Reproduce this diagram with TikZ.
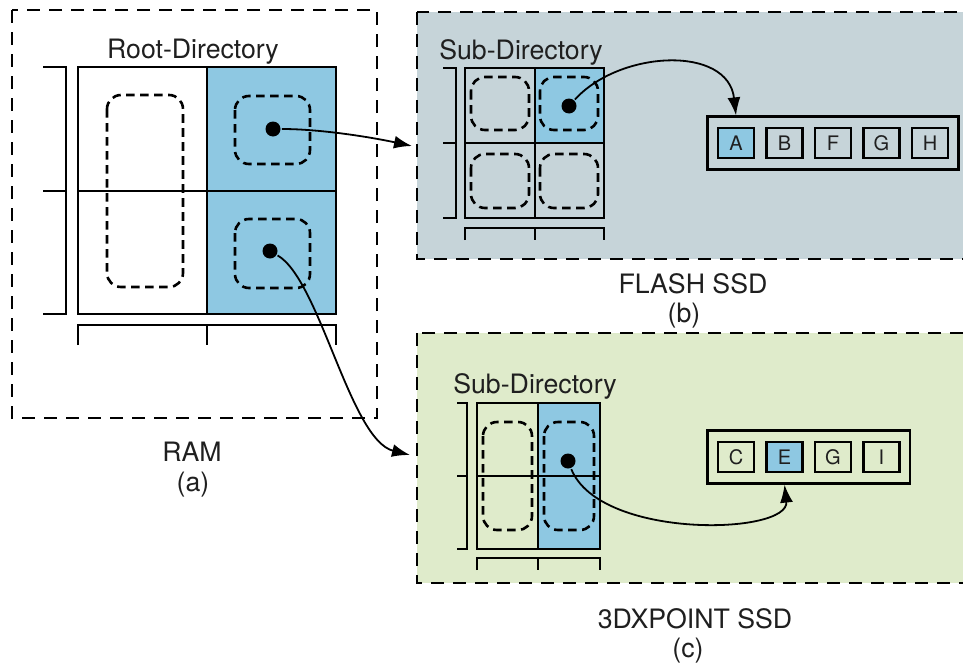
\documentclass[tikz,border=0pt]{standalone}
\usepackage{fontspec}
\setmainfont{TeX Gyre Heros}
\usepackage{tikz}
\usepackage{xcolor}
\usetikzlibrary{calc}
\usetikzlibrary{positioning, fit, arrows.meta}

\definecolor{cellblue}{RGB}{142,200,226}
\definecolor{flashgray}{RGB}{198,212,217}
\definecolor{xpointgreen}{RGB}{223,235,203}

\begin{document}
\begin{tikzpicture}[x=0.5pt, y=-0.5pt, line width=1.3pt, every node/.style={text=black!88}]
                % Styles for the regions, slots, pointers and key lists
                \tikzstyle{region}=[dash pattern=on 6.5pt off 4.5pt, line width=1.3pt];
                \tikzstyle{slot}=[dash pattern=on 4.3pt off 2.7pt, line width=1.3pt, rounded corners=7pt];
                \tikzstyle{ptr}=[circle, fill=black, inner sep=0pt, minimum size=7.5pt];
                \tikzstyle{key}=[draw, line width=1.3pt, minimum width=18pt, minimum height=15pt, inner sep=0pt, font=\fontsize{10}{12}\selectfont];
                \tikzstyle{keylist}=[draw, line width=1.3pt, inner xsep=4.5pt, inner ysep=5pt];
                \tikzstyle{link}=[line width=0.9pt, -{Latex[length=9pt, width=6.5pt]}];
                \tikzstyle{caption}=[anchor=base, font=\fontsize{13.35}{15}\selectfont];

                \clip (0,0) rectangle (963,664);

                % RAM (a)
                \draw[region] (12,10) rectangle (377,418);
                \node[caption] (roottitle) at (193,58) {Root-Directory};
                \fill[cellblue] (207,67) rectangle (336,314);
                \draw (78,67) rectangle (336,314);
                \draw (78,191) -- (336,191) (207,67) -- (207,314);
                \draw (43,67) -- (66,67) -- (66,314) -- (43,314) (43,191) -- (66,191);
                \draw (78,345) -- (78,325) -- (336,325) -- (336,345) (207,325) -- (207,345);
                \draw[slot] (107,95) rectangle (183,287);
                \draw[slot] (235,96) rectangle (310,164);
                \draw[slot] (235,219) rectangle (310,288);
                \node[ptr] (rtop) at (273,129) {};
                \node[ptr] (rbot) at (270,251) {};
                \node[caption] (ramname) at (192,461) {RAM};
                \node[caption] (ramtag) at (193,491) {(a)};

                % FLASH SSD (b)
                \draw[region, fill=flashgray] (417,12) rectangle (990,259);
                \node[caption] (flashtitle) at (521,59) {Sub-Directory};
                \fill[cellblue] (535,68) rectangle (604,143);
                \draw (465,68) rectangle (604,218);
                \draw (465,143) -- (604,143) (535,68) -- (535,218);
                \draw (443,68) -- (456,68) -- (456,218) -- (443,218) (443,143) -- (456,143);
                \draw (465,240) -- (465,228) -- (604,228) -- (604,240) (535,228) -- (535,240);
                \draw[slot] (471,77) rectangle (529,130);
                \draw[slot] (540,77) rectangle (598,130);
                \draw[slot] (471,154) rectangle (529,208);
                \draw[slot] (540,154) rectangle (598,208);
                \node[ptr] (fdot) at (569,106) {};
                \foreach \k/\name/\shade [count=\i] in {A/fa/cellblue, B/fb/flashgray, F/ff/flashgray, G/fg/flashgray, H/fh/flashgray}
                    \node[key, fill=\shade] (\name) at ({736+48.5*(\i-1)},143) {\k};
                \node[keylist, fit=(fa)(fh)] (flashlist) {};
                \node[caption] (flashname) at (693,293) {FLASH SSD};
                \node[caption] (flashtag) at (684,322) {(b)};
                \coordinate (flashin) at (412,146);

                % 3DXPOINT SSD (c)
                \draw[region, fill=xpointgreen] (417,333) rectangle (990,583);
                \node[caption] (xpointtitle) at (535,393) {Sub-Directory};
                \fill[cellblue] (538,403) rectangle (600,549);
                \draw (477,403) rectangle (600,549);
                \draw (477,476) -- (600,476) (538,403) -- (538,549);
                \draw (457,403) -- (467,403) -- (467,549) -- (457,549) (457,476) -- (467,476);
                \draw (477,570) -- (477,558) -- (600,558) -- (600,570) (538,558) -- (538,570);
                \draw[slot] (483,422) rectangle (532,530);
                \draw[slot] (544,422) rectangle (594,530);
                \node[ptr] (xdot) at (568,461) {};
                \foreach \k/\name/\shade [count=\i] in {C/xc/xpointgreen, E/xe/cellblue, G/xg/xpointgreen, I/xi/xpointgreen}
                    \node[key, fill=\shade] (\name) at ({736+48.5*(\i-1)},457) {\k};
                \node[keylist, fit=(xc)(xi)] (xpointlist) {};
                \node[caption] (xpointname) at (695,628) {3DXPOINT SSD};
                \node[caption] (xpointtag) at (688,657) {(c)};
                \coordinate (xpointin) at (410,455);

                % Pointers
                \draw[link] (rtop) .. controls (320,129) and (370,137) .. (flashin);
                \draw[link] (rbot) .. controls (320,280) and (350,440) .. (xpointin);
                \draw[link] (fdot) .. controls (620,50) and (728,45) .. (fa |- flashlist.north);
                \draw[link] (xdot) .. controls (600,540) and (790,535) .. (xe |- xpointlist.south);

            \end{tikzpicture}
\end{document}
